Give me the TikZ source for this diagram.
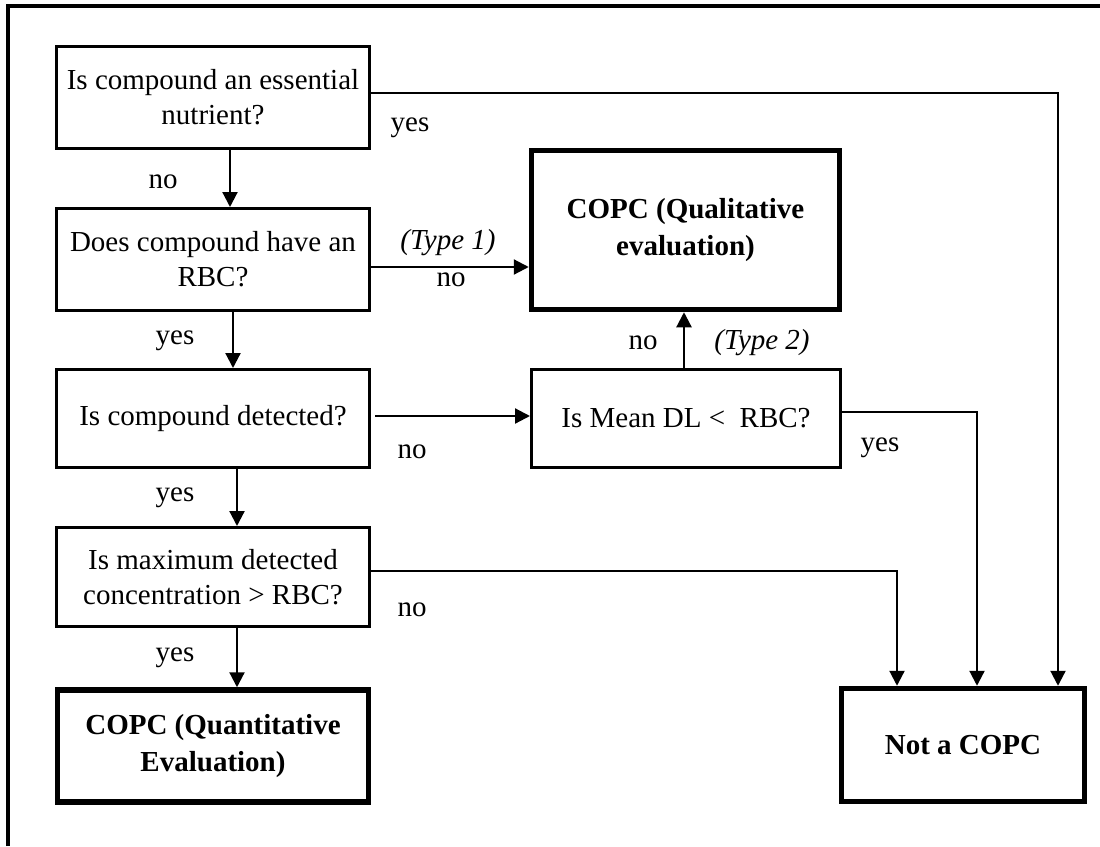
\documentclass[tikz,border=0pt]{standalone}
\usepackage{fontspec}
\setmainfont{Liberation Serif}
\usetikzlibrary{arrows.meta}
\begin{document}
\begin{tikzpicture}[x=1pt, y=-1pt,
  qbox/.style={draw, line width=3pt, align=center, inner sep=0, font=\fontsize{29}{35}\selectfont},
  endbox/.style={qbox, line width=5.5pt, font=\fontsize{29}{37}\selectfont\bfseries},
  lbl/.style={inner sep=0, font=\fontsize{29}{35}\selectfont},
  tlbl/.style={lbl, font=\fontsize{29}{35}\selectfont\itshape},
  arr/.style={line width=2.2pt, -{Triangle[length=15pt, width=15pt]}}]
\useasboundingbox (0,0) rectangle (1100,846);

% Frame
\draw[line width=4pt] (8,846) -- (8,6) -- (1100,6);

% Question boxes (left column)
\node[qbox, minimum width=313, minimum height=102] (nutr) at (213,97.5) {Is compound an essential\\nutrient?};
\node[qbox, minimum width=313, minimum height=102] (rbc) at (213,259.5) {Does compound have an\\RBC?};
\node[qbox, minimum width=313, minimum height=98] (detect) at (213,418.5) {Is compound detected?};
\node[qbox, minimum width=313, minimum height=99] (maxc) at (213,577) {Is maximum detected\\concentration > RBC?};

% Mean DL box
\node[qbox, minimum width=309, minimum height=98] (meandl) at (686,418.5) {Is Mean DL <\ \ RBC?};

% Result boxes
\node[endbox, minimum width=311, minimum height=112] (quant) at (213,746) {COPC (Quantitative\\Evaluation)};
\node[endbox, minimum width=308, minimum height=159] (qual) at (685.5,230) {COPC (Qualitative\\evaluation)};
\node[endbox, minimum width=243, minimum height=113] (notc) at (963,745) {Not a COPC};

% Down the left column
\draw[arr] ([xshift=17]nutr.south) -- ([xshift=17]rbc.north);
\draw[arr] ([xshift=20]rbc.south) -- ([xshift=20]detect.north);
\draw[arr] ([xshift=24]detect.south) -- ([xshift=24]maxc.north);
\draw[arr] ([xshift=24]maxc.south) -- ([xshift=24]quant.north);
\node[lbl] (nonutr) at (163,182) {no};
\node[lbl] (yesrbc) at (175,341) {yes};
\node[lbl] (yesdet) at (175,498) {yes};
\node[lbl] (yesmax) at (175,658) {yes};

% Type 1 and Type 2 paths
\coordinate (t1) at ([yshift=-7.5]rbc.east);
\draw[arr] (t1) -- (t1 -| qual.west);
\node[tlbl] (type1) at (448,243) {(Type 1)};
\node[lbl] (norbc) at (451,280) {no};
\coordinate (t3) at ([xshift=4, yshift=2.5]detect.east);
\draw[arr] (t3) -- (t3 -| meandl.west);
\node[lbl] (nodet) at (412,452) {no};
\coordinate (t2) at ([xshift=-2]meandl.north);
\draw[arr] (t2) -- (t2 |- qual.south);
\node[lbl] (nomean) at (643,343) {no};
\node[tlbl] (type2) at (762,343) {(Type 2)};

% Into Not a COPC
\draw[arr] ([yshift=4.5]nutr.east) -| ([xshift=95]notc.north);
\node[lbl] (yesnutr) at (410,128) {yes};
\draw[arr] ([yshift=6.5]meandl.east) -| ([xshift=14]notc.north);
\node[lbl] (yesmean) at (880,448) {yes};
\draw[arr] ([yshift=6]maxc.east) -| ([xshift=-66]notc.north);
\node[lbl] (nomax) at (412,610) {no};
\end{tikzpicture}
\end{document}
